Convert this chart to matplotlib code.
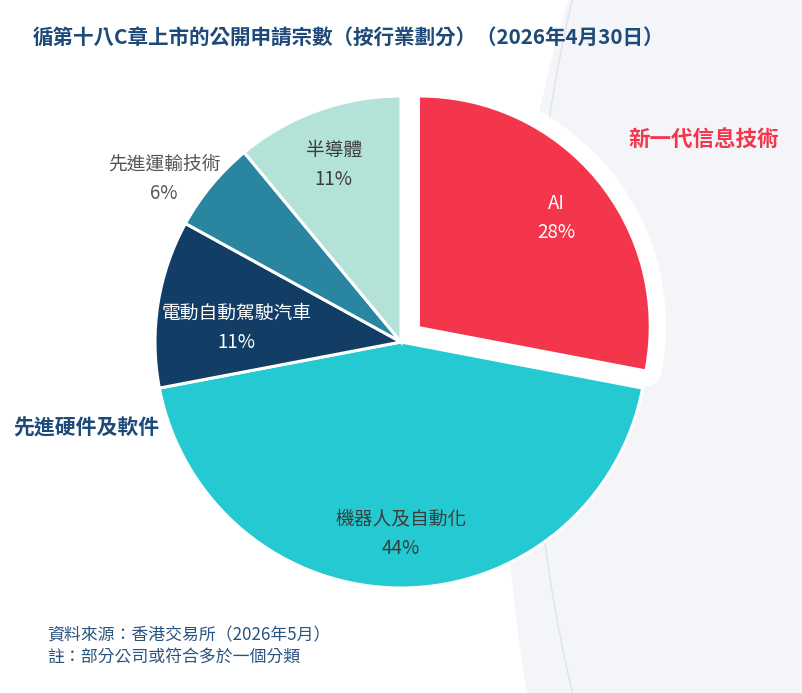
import numpy as np
import matplotlib.pyplot as plt
from matplotlib.patches import Wedge, Circle

plt.rcParams['font.family'] = ['Noto Sans CJK TC', 'DejaVu Sans']

sectors = ["AI", "機器人及自動化", "電動自動駕駛汽車", "先進運輸技術", "半導體"]
shares = [28, 44, 11, 6, 11]
groups = ["新一代信息技術", "先進硬件及軟件"]
title = "循第十八C章上市的公開申請宗數（按行業劃分）（2026年4月30日）"
notes = ["資料來源：香港交易所（2026年5月）", "註：部分公司或符合多於一個分類"]

colors = ["#f3364c", "#25c9d1", "#123e66", "#2a86a0", "#b3e3d8"]
text_colors = ["white", "#3c3c3c", "white", "#555555", "#3c3c3c"]
# label radius (fraction of r) and small angle nudge in degrees
label_pos = [(0.81, -1), (0.78, 0), (0.67, 4), (1.17, 5), (0.77, 1)]

W, H = 802, 693
cx, cy, R = 401, 342, 246   # pie centre / radius in pixels

fig = plt.figure(figsize=(W / 100, H / 100), dpi=100)
ax = fig.add_axes([0, 0, 1, 1])


def px(x, y):
    # pixel (from top-left) -> data units
    return (x - cx) / R, (cy - y) / R


# light grey backdrop on the right
ax.add_patch(Circle(px(2030, 434), 1525 / R, facecolor="#f4f5f8",
                    edgecolor="none", zorder=0))
ax.add_patch(Circle(px(2042, 346), 1510 / R, facecolor="none",
                    edgecolor="#e2e5ec", lw=1.2, zorder=0.5))

explode = [0.1, 0, 0, 0, 0]
wedges, _ = ax.pie(shares, colors=colors, startangle=90, counterclock=False,
                   explode=explode, radius=1,
                   wedgeprops=dict(edgecolor="white", linewidth=2.2))
wedges[0].set_radius(0.93)
wedges[0].set_linewidth(0)

# white halo around the detached AI slice
w0 = wedges[0]
halo = Wedge(w0.center, w0.r, w0.theta1, w0.theta2, facecolor="white",
             edgecolor="white", linewidth=25, joinstyle="round", zorder=0.8)
ax.add_patch(halo)
for w in wedges:
    w.set_zorder(1)

for i, w in enumerate(wedges):
    mid = np.deg2rad((w.theta1 + w.theta2) / 2 + label_pos[i][1])
    rr = label_pos[i][0]
    ax.text(rr * np.cos(mid), rr * np.sin(mid), f"{sectors[i]}\n{shares[i]}%",
            ha="center", va="center", color=text_colors[i], fontsize=13.5,
            linespacing=1.5, zorder=3)

ax.set_xlim(px(0, 0)[0], px(W, 0)[0])
ax.set_ylim(px(0, H)[1], px(0, 0)[1])
ax.set_aspect("auto")
ax.axis("off")

fig.text(33 / W, 1 - 37 / H, title, ha="left", va="center",
         fontsize=14.8, fontweight="bold", color="#1d4a78")
fig.text(704 / W, 1 - 140 / H, groups[0], ha="center", va="center",
         fontsize=15.5, fontweight="bold", color="#f3364c")
fig.text(86 / W, 1 - 428 / H, groups[1], ha="center", va="center",
         fontsize=15, fontweight="bold", color="#1d4a78")
fig.text(47 / W, 1 - 635 / H, notes[0], ha="left", va="center",
         fontsize=12.2, color="#2b5580")
fig.text(47 / W, 1 - 657 / H, notes[1], ha="left", va="center",
         fontsize=12.2, color="#2b5580")

fig.savefig("out.png", dpi=100)
